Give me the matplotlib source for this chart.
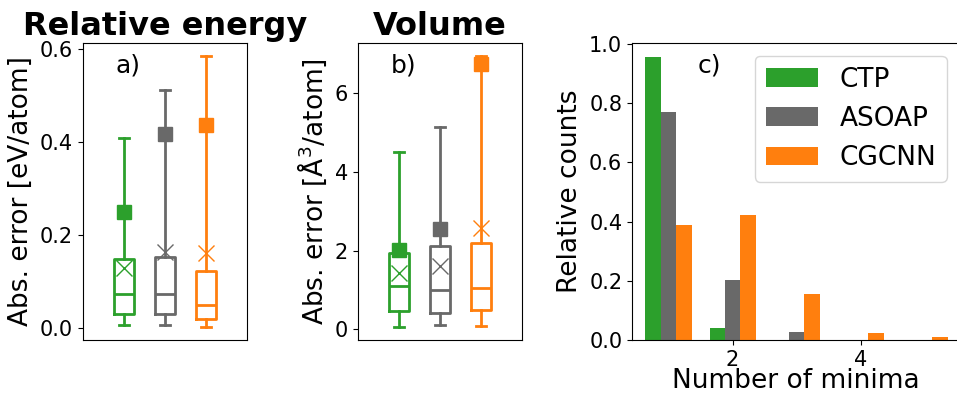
import numpy as np
import matplotlib
matplotlib.use('Agg')
import matplotlib.pyplot as plt

methods = ['CTP', 'ASOAP', 'CGCNN']
colors = ['#2ca02c', 'dimgray', '#ff7f0e']

# a) relative energy errors [eV/atom]
en_low = [0.007, 0.007, 0.004]
en_q1 = [0.031, 0.031, 0.020]
en_med = [0.073, 0.073, 0.050]
en_q3 = [0.149, 0.154, 0.123]
en_high = [0.409, 0.511, 0.583]
en_mean = [0.130, 0.164, 0.161]
en_square = [0.249, 0.416, 0.436]

# b) volume errors [A^3/atom]
vol_low = [0.07, 0.10, 0.08]
vol_q1 = [0.47, 0.41, 0.48]
vol_med = [1.09, 0.99, 1.04]
vol_q3 = [1.94, 2.11, 2.20]
vol_high = [4.51, 5.15, 6.93]
vol_mean = [1.43, 1.61, 2.58]
vol_square = [2.02, 2.55, 6.74]

# c) number of minima histogram
n_minima = [1, 2, 3, 4, 5]
counts_ctp = [0.956, 0.040, 0.001, 0.0, 0.001]
counts_asoap = [0.770, 0.203, 0.027, 0.0, 0.0]
counts_cgcnn = [0.388, 0.422, 0.156, 0.024, 0.009]

TICK = 15
LAB = 19


def boxpanel(ax, low, q1, med, q3, high, mean, square):
    for i in range(3):
        st = [dict(whislo=low[i], q1=q1[i], med=med[i], q3=q3[i],
                   whishi=high[i], mean=mean[i], fliers=[])]
        c = colors[i]
        ax.bxp(st, positions=[i + 1], widths=0.5, showmeans=True,
               boxprops=dict(color=c, lw=2),
               whiskerprops=dict(color=c, lw=2),
               capprops=dict(color=c, lw=2),
               medianprops=dict(color=c, lw=2),
               meanprops=dict(marker='x', markeredgecolor=c, markersize=12,
                              markeredgewidth=1))
        ax.plot([i + 1], [square[i]], 's', color=c, markersize=9.5, zorder=5)
    ax.set_xlim(0, 4)
    ax.set_xticks([])
    ax.tick_params(labelsize=TICK)


fig = plt.figure(figsize=(9.57, 3.94), dpi=100)

ax1 = fig.add_axes([0.0864, 0.137, 0.172, 0.754])
boxpanel(ax1, en_low, en_q1, en_med, en_q3, en_high, en_mean, en_square)
ax1.set_yticks([0.0, 0.2, 0.4, 0.6])
ax1.set_ylabel('Abs. error [eV/atom]', fontsize=LAB)
ax1.set_title('Relative energy', fontsize=23, fontweight='bold')
ax1.text(0.2, 0.9, 'a)', transform=ax1.transAxes, fontsize=18)

ax2 = fig.add_axes([0.3738, 0.137, 0.172, 0.754])
boxpanel(ax2, vol_low, vol_q1, vol_med, vol_q3, vol_high, vol_mean, vol_square)
ax2.set_yticks([0, 2, 4, 6])
ax2.set_ylabel('Abs. error [Å$^3$/atom]', fontsize=LAB)
ax2.set_title('Volume', fontsize=23, fontweight='bold')
ax2.text(0.2, 0.9, 'b)', transform=ax2.transAxes, fontsize=18)

ax3 = fig.add_axes([0.6604, 0.137, 0.3427, 0.754])
x = np.array(n_minima)
w = 0.24
ax3.bar(x - w, counts_ctp, w, color=colors[0], label=methods[0])
ax3.bar(x, counts_asoap, w, color=colors[1], label=methods[1])
ax3.bar(x + w, counts_cgcnn, w, color=colors[2], label=methods[2])
ax3.set_xlim(0.43, 5.55)
ax3.set_xticks([2, 4])
ax3.set_yticks([0.0, 0.2, 0.4, 0.6, 0.8, 1.0])
ax3.tick_params(labelsize=TICK)
ax3.set_xlabel('Number of minima', fontsize=LAB, va='baseline')
ax3.xaxis.set_label_coords(0.5, -0.16)
ax3.set_ylabel('Relative counts', fontsize=LAB)
ax3.text(0.2, 0.9, 'c)', transform=ax3.transAxes, fontsize=18)
ax3.legend(loc='upper right', fontsize=LAB)

plt.savefig('out.png', dpi=100)
plt.close()
